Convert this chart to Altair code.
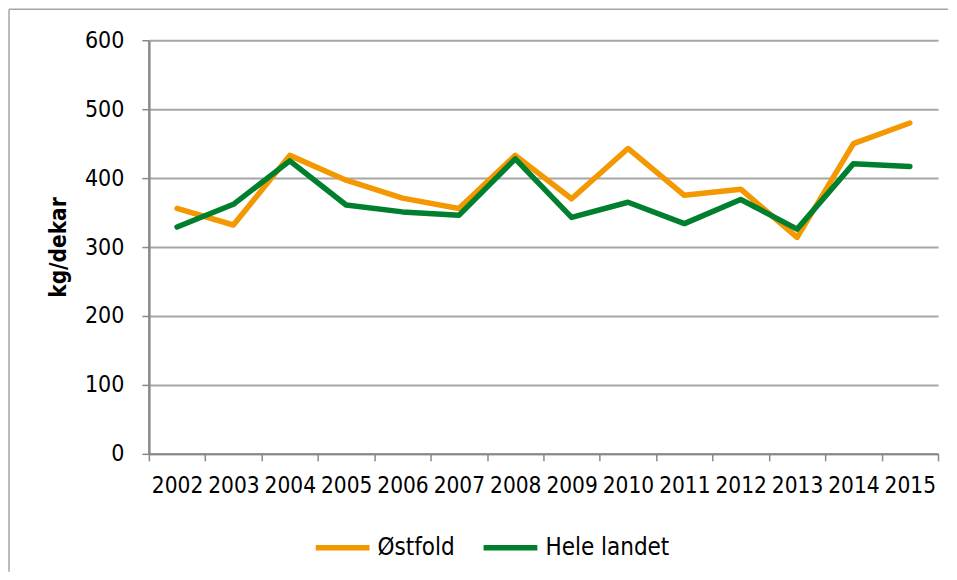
import altair as alt
import pandas as pd

years = [str(y) for y in range(2002, 2016)]
ostfold = [356, 332, 433, 397, 371, 356, 433, 370, 443, 375, 384, 314, 450, 480]
hele_landet = [329, 362, 425, 361, 351, 346, 428, 343, 365, 334, 369, 326, 421, 417]
series = ["Østfold", "Hele landet"]
colors = ["#F39800", "#00802F"]

rows = []
for name, vals in zip(series, [ostfold, hele_landet]):
    for yr, v in zip(years, vals):
        rows.append({"year": yr, "value": v, "series": name})
df = pd.DataFrame(rows)

FONT = "DejaVu Sans Condensed, Liberation Sans Narrow, sans-serif"

lines = alt.Chart(df).mark_line(strokeWidth=5.5, strokeCap="round", strokeJoin="round").encode(
    x=alt.X("year:O", title=None, bandPosition=0.5,
            scale=alt.Scale(type="band", paddingInner=0, paddingOuter=0, domain=years),
            axis=alt.Axis(labelAngle=0, tickBand="extent", tickSize=7, tickColor="#898989",
                          tickWidth=1.5, domainColor="#898989", domainWidth=2,
                          labelFontSize=22.5, labelFont=FONT, labelColor="#000000",
                          labelPadding=14, labelOverlap=False, grid=False)),
    y=alt.Y("value:Q", title="kg/dekar",
            scale=alt.Scale(domain=[0, 600], nice=False),
            axis=alt.Axis(values=[0, 100, 200, 300, 400, 500, 600], tickSize=7,
                          tickColor="#898989", tickWidth=1.5, domainColor="#898989",
                          domainWidth=2.5, gridColor="#A6A6A6", gridWidth=2,
                          labelFontSize=23, labelFont=FONT, labelColor="#000000",
                          labelPadding=18, titleFontSize=22.5, titleFont=FONT,
                          titleFontWeight="bold", titleColor="#000000", titlePadding=14)),
    color=alt.Color("series:N", title=None,
                    scale=alt.Scale(domain=series, range=colors),
                    legend=alt.Legend(orient="none", legendX=164, legendY=478,
                                      direction="horizontal", symbolType="stroke",
                                      symbolStrokeWidth=5.5, symbolSize=2900,
                                      labelFontSize=24, labelFont=FONT, labelColor="#000000",
                                      labelOffset=5, columnPadding=17)),
)

border_left = alt.Chart(pd.DataFrame({"a": [0]})).mark_rule(color="#A6A6A6", strokeWidth=1.5).encode(
    x=alt.value(-140), y=alt.value(-31), y2=alt.value(532))
border_top = alt.Chart(pd.DataFrame({"a": [0]})).mark_rule(color="#A6A6A6", strokeWidth=1.5).encode(
    x=alt.value(-140), x2=alt.value(800), y=alt.value(-31))

chart = alt.layer(border_left, border_top, lines).properties(
    width=790, height=414
).configure(padding=0).configure_view(stroke=None)

chart.save("out.html", embed_options={"renderer": "svg", "actions": False})
